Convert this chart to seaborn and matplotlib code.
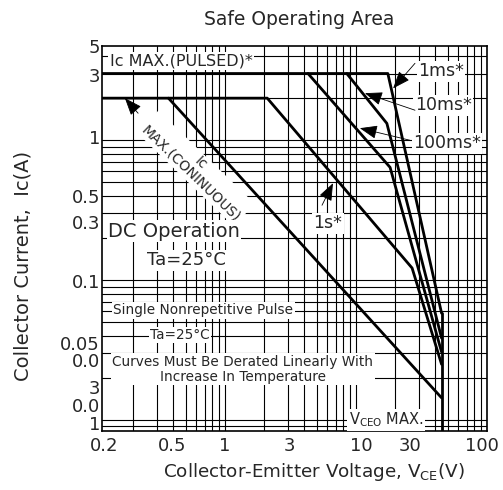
import numpy as np
import pandas as pd
import matplotlib
matplotlib.use("Agg")
import matplotlib.pyplot as plt
from matplotlib.ticker import FixedLocator, FixedFormatter, LogLocator, NullFormatter
import seaborn as sns

# corner points of each limit curve (V, A)
v_1ms = [0.1, 17.5, 45]
i_1ms = [3, 3, 0.058]
v_10ms = [8.5, 17.2, 45]
i_10ms = [3, 1.32, 0.0385]
v_100ms = [4.3, 18.2, 45]
i_100ms = [3, 0.64, 0.0306]
v_1s = [0.1, 2.1, 26.8, 45]
i_1s = [2, 2, 0.122, 0.025]
v_dc = [0.37, 45]
i_dc = [2, 0.0144]
v_vceo = [45, 45]
i_vceo = [0.058, 0.008]

# tick labels as printed on the sheet
x_tick_pos = [0.119, 0.394, 1, 3.1, 10.9, 25.8, 91.6]
x_tick_labels = ["0.2", "0.5", "1", "3", "10", "30", "100"]
y_tick_pos = [4.69, 2.91, 1.05, 0.398, 0.26, 0.0984, 0.0355, 0.0268, 0.0172, 0.0128, 0.00952]
y_tick_labels = ["5", "3", "1", "0.5", "0.3", "0.1", "0.05", "0.0", "3", "0.0", "1"]

curves = {
    "1ms": (v_1ms, i_1ms),
    "10ms": (v_10ms, i_10ms),
    "100ms": (v_100ms, i_100ms),
    "1s": (v_1s, i_1s),
    "DC": (v_dc, i_dc),
    "VCEO": (v_vceo, i_vceo),
}
rows = []
for name, (vs, cs) in curves.items():
    for k, (v, c) in enumerate(zip(vs, cs)):
        rows.append((name, k, v, c))
df = pd.DataFrame(rows, columns=["curve", "order", "V", "I"])

sns.set_theme(style="white")
plt.rcParams["font.family"] = ["DejaVu Sans"]

fig = plt.figure(figsize=(5.03, 4.90), dpi=100)
ax = fig.add_axes([102 / 503, 1 - 431 / 490, 385 / 503, 385 / 490])

sns.lineplot(data=df, x="V", y="I", units="curve", estimator=None, sort=False,
             color="black", lw=2.0, ax=ax, zorder=2.5)

ax.set_xscale("log")
ax.set_yscale("log")
ax.set_xlim(0.115, 100)
ax.set_ylim(0.00834, 4.72)

for axis, pos, labs in ((ax.xaxis, x_tick_pos, x_tick_labels), (ax.yaxis, y_tick_pos, y_tick_labels)):
    axis.set_major_locator(FixedLocator(pos))
    axis.set_major_formatter(FixedFormatter(labs))
    axis.set_minor_locator(LogLocator(base=10, subs=np.arange(1, 10), numticks=30))
    axis.set_minor_formatter(NullFormatter())
    axis.remove_overlapping_locs = False

ax.grid(False, which="major")
ax.grid(True, which="minor", color="black", lw=0.8)
ax.tick_params(which="both", length=0)
ax.tick_params(axis="x", labelsize=13, pad=4)
ax.tick_params(axis="y", labelsize=13, pad=1.5)
for s in ax.spines.values():
    s.set_color("black")
    s.set_linewidth(1.2)

ax.set_title("Safe Operating Area", fontsize=13.5, pad=15, x=0.512)
ax.set_xlabel(r"Collector-Emitter Voltage, V$_{\mathregular{CE}}$(V)", fontsize=13.2)
ax.set_ylabel("Collector Current,  Ic(A)", fontsize=14)
ax.xaxis.set_label_coords(0.55, -0.077)
ax.yaxis.set_label_coords(-0.18, 0.43)

box = dict(facecolor="white", edgecolor="none", pad=1.0)

ax.text(0.132, 3.67, "Ic MAX.(PULSED)*", fontsize=11.5, va="center", bbox=box)
ax.text(0.6, 0.63, "Ic\nMAX.(CONINUOUS)", fontsize=10, rotation=-44, rotation_mode="anchor",
        ha="center", va="center", multialignment="center", linespacing=1.0, bbox=box)
ax.text(0.128, 0.224, "DC Operation", fontsize=14, va="center", bbox=box)
ax.text(0.254, 0.139, "Ta=25°C", fontsize=13, va="center", bbox=box)
ax.text(0.14, 0.061, "Single Nonrepetitive Pulse", fontsize=9.8, va="center", bbox=box)
ax.text(0.268, 0.0405, "Ta=25°C", fontsize=9.8, va="center", bbox=box)
ax.text(1.37, 0.0231, "Curves Must Be Derated Linearly With\nIncrease In Temperature",
        fontsize=9.8, ha="center", va="center", linespacing=1.1, bbox=box)
ax.text(16.9, 0.01, r"V$_{\mathregular{CEO}}$ MAX.", fontsize=10.5, ha="center", va="center", bbox=box)

ax.text(44.6, 3.11, "1ms*", fontsize=12.5, ha="center", va="center", bbox=box)
ax.text(46.2, 1.78, "10ms*", fontsize=12.5, ha="center", va="center", bbox=box)
ax.text(49.5, 0.952, "100ms*", fontsize=12.5, ha="center", va="center", bbox=box)
ax.text(6.11, 0.255, "1s*", fontsize=12.5, ha="center", va="center", bbox=box)

arrow = dict(arrowstyle="-|>,head_length=0.9,head_width=0.35", color="black", lw=0.6,
             mutation_scale=12, shrinkA=0, shrinkB=0)
for tip, tail in [((19.2, 2.35), (28.2, 3.55)),
                  ((11.7, 2.17), (28.2, 1.64)),
                  ((10.7, 1.22), (25.8, 1.0)),
                  ((6.67, 0.493), (5.5, 0.343)),
                  ((0.172, 2.0), (0.217, 1.56))]:
    ax.annotate("", xy=tip, xytext=tail, arrowprops=arrow, zorder=4)

fig.savefig("out.png", dpi=100)
